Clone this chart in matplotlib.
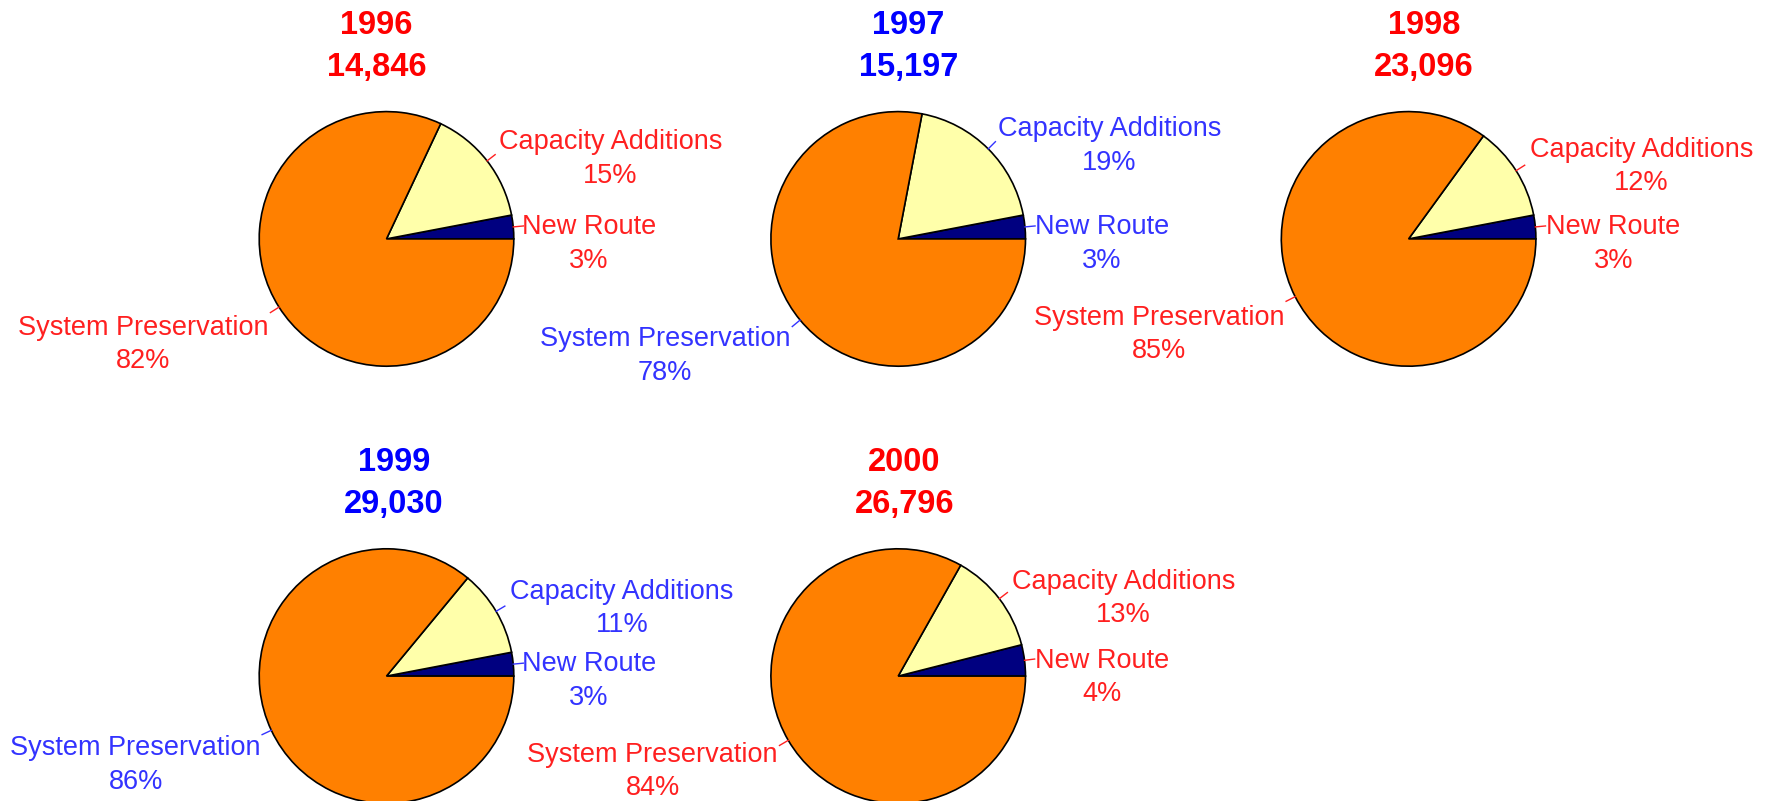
import numpy as np
import matplotlib.pyplot as plt

plt.rcParams["font.family"] = ["Liberation Sans", "DejaVu Sans"]

years = ["1996", "1997", "1998", "1999", "2000"]
totals = ["14,846", "15,197", "23,096", "29,030", "26,796"]
categories = ["New Route", "Capacity Additions", "System Preservation"]
shares = [
    [3, 15, 82],
    [3, 19, 78],
    [3, 12, 85],
    [3, 11, 86],
    [4, 13, 84],
]

slice_colors = ["#000080", "#FFFFAA", "#FF8000"]
title_colors = ["#FF0000", "#0000FF", "#FF0000", "#0000FF", "#FF0000"]
label_colors = ["#FF2020", "#3333FF", "#FF2020", "#3333FF", "#FF2020"]

# pie centres in pixels (figure 1767x801), radius in pixels
centers = [(386.5, 238.9), (898.2, 238.9), (1408.6, 238.9), (386.5, 676.1), (898.2, 676.1)]
radius = 127.3
# label positions in pie-radius units: New Route, Capacity Additions, System Preservation
label_pos = [
    [(1.59, -0.04), (1.76, 0.63), (-1.91, -0.83)],
    [(1.60, -0.04), (1.66, 0.73), (-1.83, -0.92)],
    [(1.61, -0.04), (1.83, 0.57), (-1.96, -0.75)],
    [(1.59, -0.04), (1.85, 0.53), (-1.97, -0.70)],
    [(1.60, -0.01), (1.77, 0.61), (-1.93, -0.75)],
]
title_dx = [-0.08, 0.08, 0.12, 0.06, 0.05]

W, H = 1767, 801
fig = plt.figure(figsize=(W / 100, H / 100), dpi=100)

for i, year in enumerate(years):
    cx, cy = centers[i]
    ax = fig.add_axes([(cx - radius) / W, 1 - (cy + radius) / H, 2 * radius / W, 2 * radius / H])
    vals = shares[i]
    ax.pie(vals, colors=slice_colors, startangle=0, counterclock=True, radius=1,
           wedgeprops=dict(edgecolor="black", linewidth=1.2))
    ax.set_xlim(-1, 1)
    ax.set_ylim(-1, 1)
    ax.set_aspect("equal")
    ax.axis("off")

    total = sum(vals)
    start = 0.0
    for j, (name, v) in enumerate(zip(categories, vals)):
        mid = np.deg2rad(start + v / total * 360 / 2)
        start += v / total * 360
        ax.plot([np.cos(mid), 1.08 * np.cos(mid)], [np.sin(mid), 1.08 * np.sin(mid)],
                color=label_colors[i], lw=1, clip_on=False)
        lx, ly = label_pos[i][j]
        ax.text(lx, ly, f"{name}\n{v}%", color=label_colors[i], fontsize=19.5,
                ha="center", va="center", linespacing=1.38, clip_on=False)

    ax.text(title_dx[i], 1.51, f"{year}\n{totals[i]}", color=title_colors[i],
            fontsize=23.5, fontweight="bold", ha="center", va="center",
            linespacing=1.45, clip_on=False)

fig.savefig("out.png", dpi=100)
